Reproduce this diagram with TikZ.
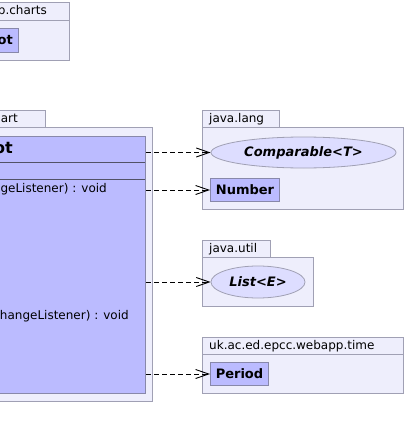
\documentclass[tikz,border=0pt]{standalone}
\usepackage{fontspec}
\setmainfont{DejaVu Sans}
\usetikzlibrary{arrows.meta,shapes.geometric}
\definecolor{pkgfill}{RGB}{238,238,252}
\definecolor{pkgline}{RGB}{160,160,180}
\definecolor{clsfill}{RGB}{187,187,255}
\definecolor{clsline}{RGB}{136,136,170}
\definecolor{ifill}{RGB}{221,221,255}
\tikzset{
  pkg/.style={draw=pkgline, fill=pkgfill, line width=1pt},
  cls/.style={draw=clsline, fill=clsfill, line width=1pt},
  clsbox/.style={cls, rectangle, inner sep=0pt, anchor=north west},
  iface/.style={draw=pkgline, fill=ifill, line width=0.8pt, ellipse, inner sep=0pt},
  pkglabel/.style={font=\fontsize{12}{14}\selectfont, inner sep=0pt},
  clslabel/.style={font=\fontsize{13}{15}\selectfont\bfseries, inner sep=0pt},
  method/.style={font=\fontsize{12}{14}\selectfont, inner sep=0pt, anchor=east},
  dep/.style={dash pattern=on 5pt off 3pt, line width=0.9pt, -{Straight Barb[length=13pt,width=9pt,line width=0.9pt]}}
}
\begin{document}
\begin{tikzpicture}[x=1pt,y=-1pt]
\useasboundingbox (0,0) rectangle (406,439);
\fill[white] (0,0) rectangle (406,439);
% top package
\draw[pkg] (-40,2) rectangle (69,20);
\draw[pkg] (-40,20) rectangle (69,60);
\node[pkglabel, anchor=east] (p1lab) at (47,11) {uk.ac.ed.epcc.webapp.charts};
\draw[cls] (-30,28) rectangle (18,52);
\node[clslabel, anchor=east] (plot) at (13,40) {Plot};
% main package
\draw[pkg] (-40,110) rectangle (45,127);
\node[pkglabel, anchor=east] (p2lab) at (18,119) {uk.ac.ed.epcc.webapp.charts.jfreechart};
\draw[pkg] (-40,127) rectangle (152,401);
\node[clsbox, minimum width=175pt, minimum height=257pt] (cls) at (-30,136) {};
\draw[clsline!60!black, line width=1pt] (-30,162) -- (145,162);
\draw[clsline!60!black, line width=1pt] (-30,179) -- (145,179);
\node[font=\fontsize{16}{18}\selectfont\bfseries, inner sep=0pt, anchor=east] (title) at (13,149) {JFreeChartPlot};
\node[method] (m1) at (107,189) {addChangeListener(ChangeListener) : void};
\node[method] (m2) at (129,316) {removeChangeListener(ChangeListener) : void};
% java.lang
\draw[pkg] (202,110) rectangle (279,127);
\node[pkglabel, anchor=west] (langlab) at (209,119) {java.lang};
\draw[pkg] (202,127) rectangle (403,209);
\node[iface, minimum width=185pt, minimum height=31pt] (cmp) at (303.5,152.5) {\fontsize{13}{15}\selectfont\bfseries\itshape Comparable<T>};
\node[clsbox, minimum width=69pt, minimum height=23pt] (num) at (210,178) {};
\node[clslabel] at (num.center) {Number};
% java.util
\draw[pkg] (202,240) rectangle (270,257);
\node[pkglabel, anchor=west] (utillab) at (209,249) {java.util};
\draw[pkg] (202,257) rectangle (313,306);
\node[iface, minimum width=94pt, minimum height=32pt] (lst) at (258,282) {\fontsize{13}{15}\selectfont\bfseries\itshape List<E>};
% time
\draw[pkg] (202,337) rectangle (403,354);
\node[pkglabel, anchor=west] (timelab) at (209,346) {uk.ac.ed.epcc.webapp.time};
\draw[pkg] (202,354) rectangle (403,393);
\node[clsbox, minimum width=58pt, minimum height=23pt] (per) at (210,362) {};
\node[clslabel] at (per.center) {Period};
% dependencies
\draw[dep] (cls.east |- cmp.west) -- (cmp.west);
\draw[dep] (cls.east |- num.west) -- (num.west);
\draw[dep] (cls.east |- lst.west) -- (lst.west);
\draw[dep] (cls.east |- per.west) -- (per.west);
\end{tikzpicture}
\end{document}
